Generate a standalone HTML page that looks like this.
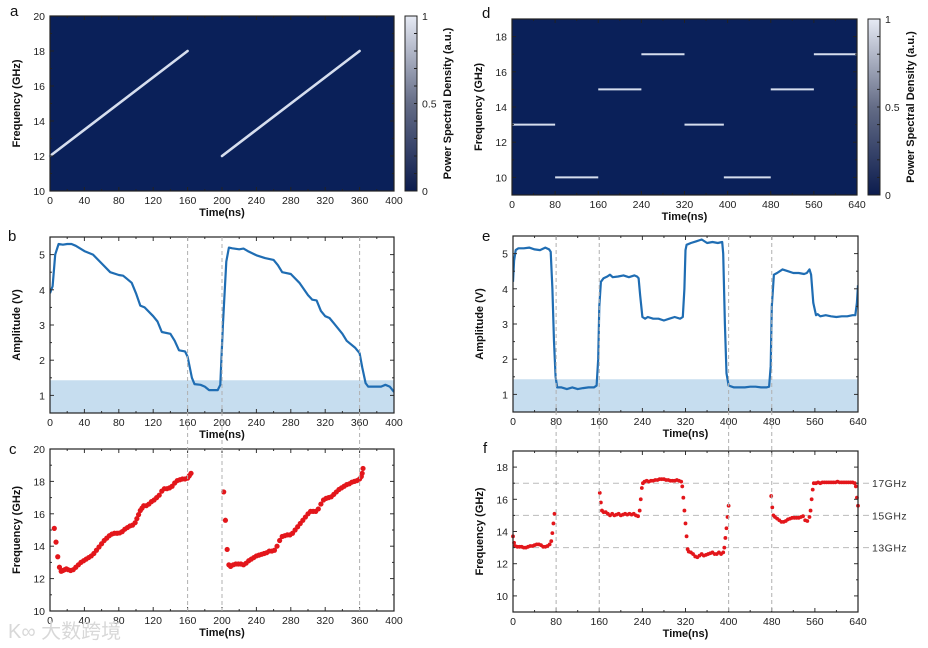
<!DOCTYPE html>
<html><head><meta charset="utf-8">
<style>
html,body{margin:0;padding:0;background:#fff;}
svg{display:block;font-family:"Liberation Sans",Arial,sans-serif;}
</style></head>
<body>
<svg id="fig" width="928" height="648" viewBox="0 0 928 648">
<defs>
<linearGradient id="cbg" x1="0" y1="1" x2="0" y2="0">
<stop offset="0" stop-color="#0c1c4e"/><stop offset="0.5" stop-color="#646c86"/><stop offset="1" stop-color="#e6eaf4"/>
</linearGradient>
</defs>
</svg>
<script>
// ---- data ----
const chirpT0 = [0, 200];
const chirpT1 = [160, 360];
const chirpF0 = [12, 12];
const chirpF1 = [18, 18];

const hopStart = [0, 80, 160, 240, 320, 393, 480, 560];
const hopEnd = [80, 160, 240, 320, 393, 480, 560, 640];
const hopFreq = [13, 10, 15, 17, 13, 10, 15, 17];

const bTime = [0,3,6,10,15,20,25,30,40,50,60,70,80,85,90,95,100,105,110,120,125,130,140,145,150,157,160,165,168,175,180,185,190,195,198,201,205,208,212,220,225,230,240,250,260,265,270,280,290,300,305,310,315,320,325,330,340,345,355,360,363,367,370,380,385,390,395,400];
const bAmp = [3.9,4.1,5.0,5.3,5.28,5.3,5.3,5.25,5.1,5.0,4.75,4.5,4.42,4.4,4.3,4.2,3.9,3.55,3.5,3.25,3.1,2.8,2.75,2.55,2.28,2.25,2.1,1.5,1.32,1.3,1.25,1.15,1.15,1.15,1.3,3.0,4.8,5.2,5.18,5.15,5.17,5.1,4.98,4.9,4.85,4.7,4.5,4.45,4.2,3.85,3.72,3.7,3.4,3.25,3.2,3.05,2.75,2.55,2.35,2.2,1.8,1.35,1.25,1.25,1.25,1.3,1.25,1.1];

const cTime = [5,7,9,11,13,15,17,19,21,24,27,30,33,36,39,42,45,48,51,54,57,60,63,66,69,72,75,78,81,84,87,90,93,96,99,101,103,105,107,109,112,115,118,121,124,127,130,133,136,139,142,145,148,151,154,157,160,162,164,
202,204,206,208,210,213,216,219,222,225,228,231,234,237,240,243,246,249,252,255,258,261,264,267,270,273,276,279,282,285,288,291,294,297,300,303,306,309,312,315,318,321,324,327,330,333,336,339,342,345,348,351,354,357,360,362,363,364];
const cFreq = [15.1,14.25,13.35,12.7,12.45,12.5,12.55,12.6,12.55,12.5,12.55,12.7,12.85,13.0,13.1,13.2,13.3,13.4,13.55,13.75,13.95,14.15,14.35,14.5,14.65,14.75,14.8,14.8,14.82,14.9,15.05,15.15,15.25,15.3,15.45,15.7,15.95,16.2,16.35,16.5,16.5,16.6,16.75,16.85,17.0,17.15,17.4,17.55,17.55,17.6,17.7,17.9,18.05,18.1,18.15,18.15,18.2,18.35,18.5,
17.35,15.6,13.8,12.85,12.75,12.85,12.9,12.9,12.9,12.85,12.95,13.1,13.2,13.3,13.4,13.45,13.5,13.55,13.6,13.7,13.7,13.75,14.0,14.35,14.6,14.65,14.7,14.7,14.8,15.0,15.2,15.4,15.6,15.8,16.0,16.15,16.15,16.15,16.3,16.6,16.85,16.95,17.0,17.05,17.2,17.35,17.5,17.6,17.7,17.8,17.85,17.95,18.0,18.05,18.15,18.3,18.5,18.8];

const eTime = [0,2,5,10,20,30,40,50,60,67,70,73,76,79,82,90,100,110,120,130,140,150,155,158,160,163,168,175,180,185,195,205,215,225,230,233,236,240,245,250,260,270,280,290,300,310,315,318,320,322,330,340,350,360,370,380,388,390,393,396,400,410,420,430,440,450,460,470,475,478,480,484,490,500,510,520,530,540,545,550,553,557,562,565,570,580,590,600,610,620,630,635,638,640];
const eAmp = [4.2,4.8,5.1,5.15,5.15,5.17,5.12,5.1,5.17,5.12,5.05,4.0,2.5,1.5,1.2,1.2,1.15,1.2,1.15,1.18,1.2,1.2,1.25,2.0,3.5,4.2,4.3,4.35,4.4,4.33,4.35,4.38,4.33,4.38,4.35,4.3,3.8,3.2,3.15,3.2,3.15,3.15,3.1,3.15,3.2,3.15,3.2,4.0,5.1,5.25,5.3,5.35,5.4,5.3,5.33,5.3,5.33,5.0,3.0,1.6,1.25,1.2,1.2,1.2,1.22,1.22,1.2,1.2,1.22,1.8,3.5,4.4,4.45,4.55,4.5,4.45,4.45,4.42,4.45,4.55,4.4,3.6,3.25,3.28,3.22,3.25,3.22,3.2,3.22,3.22,3.25,3.25,3.6,4.1];

const fTime = [0,2,4,8,12,16,20,24,28,32,36,40,44,48,52,56,60,64,68,71,73,75,77,
161,163,165,168,172,176,180,184,188,192,196,200,204,208,212,216,220,224,228,232,235,237,239,241,244,248,252,256,260,264,268,272,276,280,284,288,292,296,300,304,308,312,314,316,318,320,322,324,326,330,334,338,342,346,350,354,358,362,366,370,374,378,382,386,390,392,394,396,398,400,
479,481,483,486,490,494,498,502,506,510,514,518,522,526,530,534,538,542,546,550,552,554,556,558,562,566,570,574,578,582,586,590,594,598,602,606,610,614,618,622,626,630,634,636,638,640];
const fFreq = [13.7,13.3,13.1,13.05,13.05,13.05,13.0,13.0,13.05,13.1,13.1,13.15,13.2,13.2,13.15,13.05,13.05,13.1,13.2,13.4,13.9,14.5,15.1,
16.4,15.8,15.3,15.2,15.2,15.1,15.0,15.1,15.0,15.05,15.1,15.0,15.05,15.1,15.05,15.1,15.05,15.1,15.0,14.95,15.3,16.0,16.7,17.0,17.1,17.15,17.1,17.15,17.15,17.2,17.2,17.25,17.25,17.25,17.2,17.2,17.15,17.15,17.15,17.2,17.15,17.1,16.8,16.1,15.3,14.5,13.7,12.9,12.75,12.7,12.6,12.45,12.4,12.5,12.6,12.5,12.55,12.6,12.65,12.7,12.6,12.6,12.7,12.6,12.7,13.0,13.6,14.2,14.9,15.6,
16.2,15.5,15.0,14.9,14.8,14.7,14.6,14.6,14.65,14.75,14.8,14.85,14.85,14.85,14.85,14.9,14.95,14.7,14.65,14.9,15.3,16.0,16.6,17.0,17.0,17.05,17.0,17.05,17.05,17.05,17.05,17.05,17.05,17.05,17.1,17.05,17.05,17.05,17.05,17.05,17.05,17.05,17.0,16.8,16.1,15.6];

const refFreqs = [13, 15, 17];
const refLabels = ["13GHz", "15GHz", "17GHz"];
const leftMarkers = [160, 200, 360];
const rightMarkers = [80, 160, 400, 480];

// ---- helpers ----
const NS = "http://www.w3.org/2000/svg";
const svg = document.getElementById("fig");
function mk(tag, attrs, parent) {
  const e = document.createElementNS(NS, tag);
  for (const k in attrs) e.setAttribute(k, attrs[k]);
  (parent || svg).appendChild(e);
  return e;
}
function scale(d0, d1, r0, r1) { return v => r0 + (v - d0) * (r1 - r0) / (d1 - d0); }

function axes(p) {
  const g = mk("g", {});
  
  
  p.g = g;
  p.sx = scale(p.xd[0], p.xd[1], p.x0, p.x1);
  p.sy = scale(p.yd[0], p.yd[1], p.y1, p.y0);
  if (p.bg) {
    const bg = mk("rect", {x: p.x0, y: p.y0, width: p.x1 - p.x0, height: p.y1 - p.y0, fill: p.bg}, g);
    
    
  }
  const cp = mk("clipPath", {id: "clip-" + p.name}, g);
  mk("rect", {x: p.x0, y: p.y0, width: p.x1 - p.x0, height: p.y1 - p.y0}, cp);
  return p;
}
function frame(p) {
  const g = p.g;
  const tc = p.bg ? "#222" : "#333";
  for (let v = p.xd[0]; v <= p.xd[1] + 1e-9; v += p.xs / 2) {
    const x = p.sx(v), major = Math.abs(((v - p.xd[0]) / p.xs) - Math.round((v - p.xd[0]) / p.xs)) < 1e-6;
    const L = major ? 4 : 2;
    mk("line", {x1: x, x2: x, y1: p.y1, y2: p.y1 - L, stroke: tc, "stroke-width": 1}, g);
    mk("line", {x1: x, x2: x, y1: p.y0, y2: p.y0 + L, stroke: tc, "stroke-width": 1}, g);
    if (major) {
      const t = mk("text", {x: x, y: p.y1 + 13, "font-size": 10.5, "text-anchor": "middle", fill: "#222"}, g);
      t.textContent = Math.round(v);
      
      
    }
  }
  const ys = p.ys;
  for (let v = p.yt[0] - ys / 2 * Math.floor((p.yt[0] - p.yd[0]) / (ys / 2)); v <= p.yd[1] + 1e-9; v += ys / 2) {
    const y = p.sy(v);
    const major = Math.abs(((v - p.yt[0]) / ys) - Math.round((v - p.yt[0]) / ys)) < 1e-6;
    const L = major ? 4 : 2;
    mk("line", {x1: p.x0, x2: p.x0 + L, y1: y, y2: y, stroke: tc, "stroke-width": 1}, g);
    mk("line", {x1: p.x1, x2: p.x1 - L, y1: y, y2: y, stroke: tc, "stroke-width": 1}, g);
    if (major && v <= p.yt[1] + 1e-9) {
      const t = mk("text", {x: p.x0 - 5, y: y + 4, "font-size": 10.5, "text-anchor": "end", fill: "#222"}, g);
      t.textContent = +v.toFixed(2);
      
      
    }
  }
  const fr = mk("rect", {x: p.x0, y: p.y0, width: p.x1 - p.x0, height: p.y1 - p.y0, fill: "none", stroke: "#222", "stroke-width": 1.2}, g);
  
  
  const xt = mk("text", {x: (p.x0 + p.x1) / 2, y: p.y1 + 25, "font-size": 11, "font-weight": "bold", "text-anchor": "middle", fill: "#111"}, g);
  xt.textContent = "Time(ns)";
  
  
  const yx = p.x0 - 30, yy = (p.y0 + p.y1) / 2;
  const yt = mk("text", {x: yx, y: yy, "font-size": 11, "font-weight": "bold", "text-anchor": "middle", fill: "#111", transform: `rotate(-90 ${yx} ${yy})`}, g);
  yt.textContent = p.ytitle;
  
  
  const lt = mk("text", {x: p.lx, y: p.ly, "font-size": 15, fill: "#111"}, g);
  lt.textContent = p.letter;
  
  
}
function colorbar(x, y0, y1) {
  const g = mk("g", {});
  
  
  mk("rect", {x: x, y: y0, width: 12, height: y1 - y0, fill: "url(#cbg)", stroke: "#222", "stroke-width": 1}, g);
  for (let i = 1; i < 10; i++) {
    const y = y1 - (y1 - y0) * i / 10;
    mk("line", {x1: x + 12, x2: x + 9, y1: y, y2: y, stroke: "#222"}, g);
  }
  [[0, "0"], [0.5, "0.5"], [1, "1"]].forEach(([v, s]) => {
    const t = mk("text", {x: x + 17, y: y1 - (y1 - y0) * v + 4, "font-size": 10.5, fill: "#222"}, g);
    t.textContent = s;
    
    
  });
  const cx = x + 46, cy = (y0 + y1) / 2;
  const t = mk("text", {x: cx, y: cy, "font-size": 11, "font-weight": "bold", "text-anchor": "middle", fill: "#111", transform: `rotate(-90 ${cx} ${cy})`}, g);
  t.textContent = "Power Spectral Density (a.u.)";
  
  
}
function linePath(p, xs, ys) {
  return xs.map((t, i) => (i ? "L" : "M") + p.sx(t).toFixed(1) + "," + p.sy(ys[i]).toFixed(1)).join("");
}

// ---- panels ----
const A = axes({name: "panel-a-chirp-spectrogram", x0: 50, x1: 394, y0: 16, y1: 191, xd: [0, 400], yd: [10, 20], xs: 40, ys: 2, yt: [10, 20], bg: "#0a2059", ytitle: "Frequency (GHz)", letter: "a", lx: 10, ly: 16});
for (let i = 0; i < chirpT0.length; i++) {
  const l = mk("line", {x1: A.sx(chirpT0[i]), y1: A.sy(chirpF0[i]), x2: A.sx(chirpT1[i]), y2: A.sy(chirpF1[i]), stroke: "#d6deee", "stroke-width": 2.6, "stroke-linecap": "round"}, A.g);
  
  
}
frame(A);
colorbar(405, 16, 191);

const D = axes({name: "panel-d-hopping-spectrogram", x0: 512, x1: 857, y0: 19, y1: 195, xd: [0, 640], yd: [9, 19], xs: 80, ys: 2, yt: [10, 18], bg: "#0a2059", ytitle: "Frequency (GHz)", letter: "d", lx: 482, ly: 18});
for (let i = 0; i < hopStart.length; i++) {
  const l = mk("line", {x1: D.sx(hopStart[i]), y1: D.sy(hopFreq[i]), x2: D.sx(hopEnd[i]), y2: D.sy(hopFreq[i]), stroke: "#d6deee", "stroke-width": 2}, D.g);
  
  
}
frame(D);
colorbar(868, 19, 195);

function ampPanel(p, xs, ys) {
  const sh = mk("rect", {x: p.x0, y: p.sy(1.43), width: p.x1 - p.x0, height: p.y1 - p.sy(1.43), fill: "#c6ddef"}, p.g);
  
  
  const path = mk("path", {d: linePath(p, xs, ys), fill: "none", stroke: "#1f6db3", "stroke-width": 2.2, "stroke-linejoin": "round", "clip-path": `url(#clip-${p.name})`}, p.g);
  
  
  frame(p);
}
const B = axes({name: "panel-b-amplitude", x0: 50, x1: 394, y0: 237, y1: 413, xd: [0, 400], yd: [0.5, 5.5], xs: 40, ys: 1, yt: [1, 5], ytitle: "Amplitude (V)", letter: "b", lx: 8, ly: 241});
ampPanel(B, bTime, bAmp);
const E = axes({name: "panel-e-amplitude", x0: 513, x1: 858, y0: 236, y1: 412, xd: [0, 640], yd: [0.5, 5.5], xs: 80, ys: 1, yt: [1, 5], ytitle: "Amplitude (V)", letter: "e", lx: 482, ly: 241});
ampPanel(E, eTime, eAmp);

const C = axes({name: "panel-c-measured-frequency", x0: 50, x1: 394, y0: 449, y1: 611, xd: [0, 400], yd: [10, 20], xs: 40, ys: 2, yt: [10, 20], ytitle: "Frequency (GHz)", letter: "c", lx: 9, ly: 454});
const F = axes({name: "panel-f-measured-frequency", x0: 513, x1: 858, y0: 451, y1: 612, xd: [0, 640], yd: [9, 19], xs: 80, ys: 2, yt: [10, 18], ytitle: "Frequency (GHz)", letter: "f", lx: 483, ly: 453});

// reference dashed lines in f
refFreqs.forEach((f, i) => {
  const y = F.sy(f);
  const l = mk("line", {x1: F.x0, x2: F.x1 + 12, y1: y, y2: y, stroke: "#bbb", "stroke-width": 1, "stroke-dasharray": "6,4"}, F.g);
  
  
  const t = mk("text", {x: F.x1 + 14, y: y + 4, "font-size": 10.5, fill: "#333", "letter-spacing": "0.5"}, F.g);
  t.textContent = refLabels[i];
  
  
});

// vertical marker lines spanning b..c and e..f
leftMarkers.forEach(t => {
  const l = mk("line", {x1: B.sx(t), x2: B.sx(t), y1: B.y0, y2: C.y1, stroke: "#b0b0b0", "stroke-width": 1, "stroke-dasharray": "4,3"});
  
  
});
rightMarkers.forEach(t => {
  const l = mk("line", {x1: E.sx(t), x2: E.sx(t), y1: E.y0, y2: F.y1, stroke: "#b0b0b0", "stroke-width": 1, "stroke-dasharray": "4,3"});
  
  
});

cTime.forEach((t, i) => {
  const c = mk("circle", {cx: C.sx(t), cy: C.sy(cFreq[i]), r: 2.6, fill: "#e3161b"}, C.g);
  
  
});
frame(C);
fTime.forEach((t, i) => {
  const c = mk("circle", {cx: F.sx(t), cy: F.sy(fFreq[i]), r: 1.9, fill: "#e3161b"}, F.g);
  
  
});
frame(F);

const wm = mk("text", {x: 8, y: 638, "font-size": 20, fill: "#d8d8d8", "font-family": "Liberation Sans, Noto Sans CJK SC, sans-serif"});
wm.textContent = "K∞ 大数跨境";


</script>
</body></html>
